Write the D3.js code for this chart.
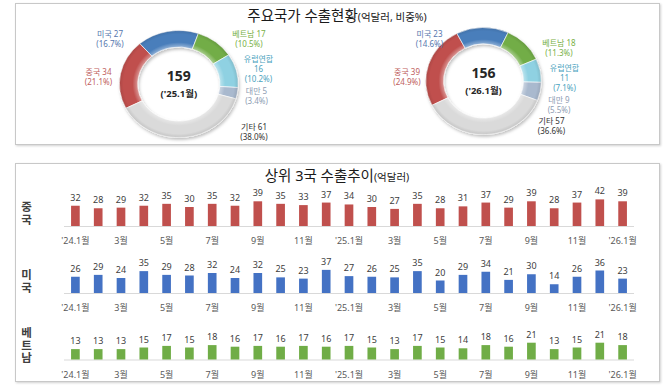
<!DOCTYPE html>
<html><head><meta charset="utf-8">
<script src="https://cdn.jsdelivr.net/npm/d3@7"></script>
<style>
body{margin:0;background:#fff}
svg{display:block;font-family:"Noto Sans","Noto Sans CJK KR",sans-serif}
</style></head>
<body><svg id="c" width="670" height="392"></svg>
<script>
// ---------- DATA ----------
const countries = ["중국","미국","베트남","유럽연합","대만","기타"];
const value2501 = [34,27,17,16,5,61];
const share2501 = [21.1,16.7,10.5,10.2,3.4,38.0];
const value2601 = [39,23,18,11,9,57];
const share2601 = [24.9,14.6,11.3,7.1,5.5,36.6];
const total2501 = 159, total2601 = 156;
const period2501 = "('25.1월)", period2601 = "('26.1월)";

const months = ["'24.1월","2월","3월","4월","5월","6월","7월","8월","9월","10월","11월","12월",
                "'25.1월","2월","3월","4월","5월","6월","7월","8월","9월","10월","11월","12월","'26.1월"];
const china   = [32,28,29,32,35,30,35,32,39,35,33,37,34,30,27,35,28,31,37,29,39,28,37,42,39];
const usa     = [26,29,24,35,29,28,32,24,32,25,23,37,27,26,25,35,20,29,34,21,30,14,26,36,23];
const vietnam = [13,13,13,15,17,15,18,16,17,16,17,16,17,15,13,17,15,14,18,16,21,13,15,21,18];

// ---------- STYLE / LAYOUT ----------
const sliceColors = ["#C0504D","#4A7EBB","#72AD47","#8FD1E2","#A9B9CE","#DADADA"];
const labelColors = ["#C0605D","#5677AE","#78B046","#4BA3BE","#8E9DB3","#333333"];
const svg = d3.select("#c");
const defs = svg.append("defs");
const sh = defs.append("filter").attr("id","sh").attr("x","-20%").attr("y","-20%").attr("width","140%").attr("height","140%");
sh.append("feDropShadow").attr("dx",1).attr("dy",2).attr("stdDeviation",1.5).attr("flood-color","#000").attr("flood-opacity",0.25);
const ps = defs.append("filter").attr("id","ps").attr("x","-5%").attr("y","-5%").attr("width","110%").attr("height","115%");
ps.append("feDropShadow").attr("dx",1).attr("dy",1).attr("stdDeviation",1).attr("flood-color","#000").attr("flood-opacity",0.18);

const rOut = 53.5, rIn = 37;
const bevel = defs.append("radialGradient").attr("id","bev").attr("gradientUnits","userSpaceOnUse")
  .attr("cx",0).attr("cy",0).attr("r",rOut);
[[rIn/rOut,"#fff",0.4],[0.78,"#fff",0.0],[0.93,"#000",0.0],[1,"#000",0.1]].forEach(s=>
  bevel.append("stop").attr("offset",s[0]).attr("stop-color",s[1]).attr("stop-opacity",s[2]));

// panels
svg.append("rect").attr("x",15.5).attr("y",3.5).attr("width",644).attr("height",141)
  .attr("fill","#fff").attr("stroke","#C8C8C8").attr("filter","url(#ps)");
svg.append("rect").attr("x",15.5).attr("y",163.5).attr("width",644).attr("height",218)
  .attr("fill","#fff").attr("stroke","#C8C8C8").attr("filter","url(#ps)");

// titles
const t1 = svg.append("text").attr("x",337).attr("y",21).attr("text-anchor","middle").attr("fill","#1a1a1a");
t1.append("tspan").attr("font-size",14.5).text("주요국가 수출현황");
t1.append("tspan").attr("font-size",10.5).text("(억달러, 비중%)");
const t2 = svg.append("text").attr("x",337).attr("y",181).attr("text-anchor","middle").attr("fill","#1a1a1a");
t2.append("tspan").attr("font-size",14.5).text("상위 3국 수출추이");
t2.append("tspan").attr("font-size",10.5).text("(억달러)");

// ---------- DONUTS ----------
const startA = 243 * Math.PI/180;
const pie = d3.pie().sort(null).startAngle(startA).endAngle(startA + 2*Math.PI);
const arc = d3.arc().innerRadius(rIn).outerRadius(rOut);

// label anchors (first-line baseline, centered) for each donut
const labelLayout2501 = [[98.5,75],[110,37],[249,37],[258.5,62],[256.5,94],[254,130]];
const labelLayout2601 = [[407,74.5],[429.5,37],[559,46],[564.5,71],[559,103],[551.5,124]];

function donut(cx, cy, sx, shares, values, total, period, layout){
  const g = svg.append("g").attr("transform",`translate(${cx},${cy}) scale(${sx},1)`);
  const ring = g.append("g").attr("filter","url(#sh)");
  ring.selectAll("path.s").data(pie(shares)).join("path").attr("class","s")
    .attr("d",arc).attr("fill",(d,i)=>sliceColors[i]).attr("stroke","#fff").attr("stroke-width",0.6);
  g.append("path").attr("d",d3.arc().innerRadius(rIn).outerRadius(rOut).startAngle(0).endAngle(2*Math.PI)())
    .attr("fill","url(#bev)").attr("pointer-events","none");
  svg.append("text").attr("x",cx).attr("y",cy-3).attr("text-anchor","middle")
    .attr("font-size",14).attr("font-weight","bold").attr("fill","#262626").text(total);
  svg.append("text").attr("x",cx).attr("y",cy+13).attr("text-anchor","middle")
    .attr("font-size",9.5).attr("font-weight","bold").attr("fill","#262626").text(period);
  countries.forEach((c,i)=>{
    const [x,y] = layout[i];
    const lines = c==="유럽연합" ? [c, String(values[i]), `(${share(shares[i])}%)`]
                                  : [`${c} ${values[i]}`, `(${share(shares[i])}%)`];
    const t = svg.append("text").attr("x",x).attr("y",y).attr("text-anchor","middle")
      .attr("font-size",8).attr("fill",labelColors[i]);
    lines.forEach((l,k)=>t.append("tspan").attr("x",x).attr("dy",k?10:0).text(l));
  });
}
function share(v){ return v.toFixed(1); }
donut(178.8, 84, 1.11, share2501, value2501, total2501, period2501, labelLayout2501);
donut(483.5, 81, 1.08, share2601, value2601, total2601, period2601, labelLayout2601);

// ---------- BAR ROWS ----------
const x = d3.scaleBand().domain(d3.range(months.length)).range([64,634]).paddingInner(0.62).paddingOuter(0.31);
const rows = [
  {name:"중국",   data:china,   color:"#C0504D", axisY:226,   max:60, h:38,   nameTop:201},
  {name:"미국",   data:usa,     color:"#4472C4", axisY:293,   max:60, h:37.5, nameTop:269},
  {name:"베트남", data:vietnam, color:"#70AD47", axisY:359.5, max:25, h:20,   nameTop:327}
];
rows.forEach(r=>{
  const y = d3.scaleLinear().domain([0,r.max]).range([r.axisY, r.axisY - r.h]);
  const g = svg.append("g");
  g.append("line").attr("x1",x.range()[0]).attr("x2",x.range()[1]).attr("y1",r.axisY+0.5).attr("y2",r.axisY+0.5)
    .attr("stroke","#D9D9D9");
  g.selectAll("rect").data(r.data).join("rect")
    .attr("x",(d,i)=>x(i)).attr("width",x.bandwidth())
    .attr("y",d=>y(d)).attr("height",d=>y(0)-y(d)).attr("fill",r.color);
  g.selectAll("text.v").data(r.data).join("text").attr("class","v")
    .attr("x",(d,i)=>x(i)+x.bandwidth()/2).attr("y",d=>y(d)-5)
    .attr("text-anchor","middle").attr("font-size",9).attr("fill","#404040").text(d=>d);
  const ax = svg.append("g").attr("transform",`translate(0,${r.axisY})`)
    .call(d3.axisBottom(x).tickValues(d3.range(0,months.length,2)).tickSize(0).tickFormat(i=>months[i]));
  ax.select(".domain").remove();
  ax.selectAll("text").attr("y",18).attr("dy",null).attr("font-size",9).attr("fill","#595959")
    .attr("font-family","\"Noto Sans\",\"Noto Sans CJK KR\",sans-serif");
  svg.append("text").attr("x",26).attr("y",r.nameTop)
    .style("writing-mode","vertical-rl").style("text-orientation","upright")
    .attr("font-size",11.5).attr("font-weight","bold").attr("fill","#404040")
    .attr("letter-spacing",1).text(r.name);
});
</script>
</body></html>
